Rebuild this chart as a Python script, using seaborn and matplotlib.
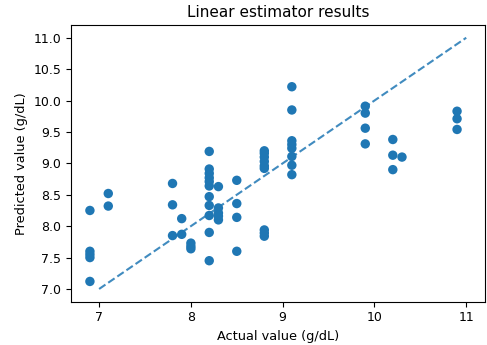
import matplotlib
matplotlib.use("Agg")
import matplotlib.pyplot as plt
import seaborn as sns
import pandas as pd

actual = (
    [6.9] * 5 + [7.1] * 2 + [7.8] * 3 + [7.9] * 2 + [8.0] * 3 + [8.2] * 11
    + [8.3] * 5 + [8.5] * 4 + [8.8] * 9 + [9.1] * 8 + [9.9] * 4 + [10.2] * 3
    + [10.3] + [10.9] * 3
)
predicted = (
    [8.25, 7.6, 7.55, 7.5, 7.12]
    + [8.52, 8.32]
    + [8.68, 8.34, 7.85]
    + [8.12, 7.87]
    + [7.73, 7.68, 7.64]
    + [9.19, 8.91, 8.84, 8.77, 8.71, 8.64, 8.47, 8.33, 8.17, 7.9, 7.45]
    + [8.63, 8.29, 8.21, 8.16, 8.1]
    + [8.73, 8.36, 8.14, 7.6]
    + [9.2, 9.16, 9.1, 9.03, 8.96, 8.92, 7.94, 7.89, 7.84]
    + [10.22, 9.85, 9.36, 9.3, 9.24, 9.11, 8.97, 8.82]
    + [9.91, 9.8, 9.56, 9.31]
    + [9.38, 9.13, 8.9]
    + [9.1]
    + [9.83, 9.71, 9.54]
)
ref_line = [7.0, 11.0]

df = pd.DataFrame({"actual": actual, "predicted": predicted})
line_df = pd.DataFrame({"x": ref_line, "y": ref_line})

fig, ax = plt.subplots(figsize=(4.87, 3.45), dpi=100)
sns.scatterplot(data=df, x="actual", y="predicted", ax=ax, s=46,
                color="#1f77b4", linewidth=0, edgecolor="none")
sns.lineplot(data=line_df, x="x", y="y", ax=ax, color="#1f77b4",
             linestyle="--", alpha=0.85, linewidth=1.5)
ax.set_title("Linear estimator results", fontsize=11)
ax.set_xlabel("Actual value (g/dL)", fontsize=9.3)
ax.set_ylabel("Predicted value (g/dL)", fontsize=9.3)
ax.set_xticks([7, 8, 9, 10, 11])
ax.set_yticks([7.0, 7.5, 8.0, 8.5, 9.0, 9.5, 10.0, 10.5, 11.0])
ax.tick_params(labelsize=9)
fig.subplots_adjust(left=0.146, right=0.996, top=0.927, bottom=0.126)
fig.savefig("out.png", dpi=100)
